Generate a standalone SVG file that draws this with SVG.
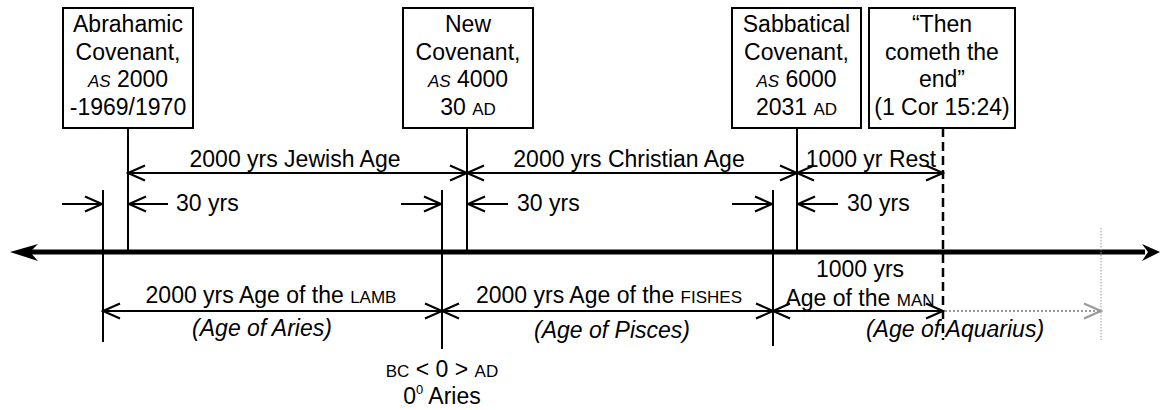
<svg xmlns="http://www.w3.org/2000/svg" width="1170" height="410" viewBox="0 0 1170 410">
<style>
text{font-family:"Liberation Sans",Arial,sans-serif;font-size:23px;fill:#000}
.c{text-anchor:middle}
.sc{font-size:17px}
.it{font-style:italic}
.box{fill:#fff;stroke:#000;stroke-width:2}
.ln{stroke:#000;stroke-width:2;fill:none}
.ar{stroke:#000;stroke-width:2;fill:none;marker-end:url(#oa)}
.dar{stroke:#000;stroke-width:2;fill:none;marker-start:url(#oa);marker-end:url(#oa)}
</style>
<defs>
<marker id="oa" viewBox="-20 -10 22 20" refX="0" refY="0" markerWidth="22" markerHeight="20" markerUnits="userSpaceOnUse" orient="auto-start-reverse">
<path d="M-17,-7.5 L0,0 L-17,7.5" fill="none" stroke="#000" stroke-width="2.2"/>
</marker>
<marker id="ga" viewBox="-20 -10 22 20" refX="0" refY="0" markerWidth="22" markerHeight="20" markerUnits="userSpaceOnUse" orient="auto">
<path d="M-17,-7.5 L0,0 L-17,7.5" fill="none" stroke="#999" stroke-width="2.2"/>
</marker>
</defs>

<g id="connectors">
<!-- main axis -->
<line x1="28" y1="252" x2="1145" y2="252" stroke="#000" stroke-width="5"/>
<polygon points="10,252 38,244 30,252 38,261" fill="#000"/>
<polygon points="1160,252 1142,244 1148,252 1142,261" fill="#000"/>
<!-- verticals -->
<line class="ln" x1="103" y1="190" x2="103" y2="342"/>
<line class="ln" x1="128" y1="128" x2="128" y2="250"/>
<line class="ln" x1="442" y1="190" x2="442" y2="349"/>
<line class="ln" x1="467" y1="128" x2="467" y2="250"/>
<line class="ln" x1="773" y1="190" x2="773" y2="346"/>
<line class="ln" x1="797" y1="128" x2="797" y2="250"/>
<line x1="943" y1="128" x2="943" y2="340" stroke="#000" stroke-width="2.5" stroke-dasharray="9,5"/>
<line x1="1101" y1="228" x2="1101" y2="340" stroke="#999" stroke-width="1" stroke-dasharray="1.5,1.5"/>
<!-- top span arrows -->
<line class="dar" x1="128" y1="173" x2="467" y2="173"/>
<line class="dar" x1="467" y1="173" x2="797" y2="173"/>
<line class="dar" x1="797" y1="173" x2="943" y2="173"/>
<!-- 30 yrs arrows -->
<line class="ar" x1="62" y1="204" x2="102" y2="204"/>
<line class="ar" x1="168" y1="204" x2="129" y2="204"/>
<line class="ar" x1="401" y1="204" x2="441" y2="204"/>
<line class="ar" x1="508" y1="204" x2="468" y2="204"/>
<line class="ar" x1="732" y1="204" x2="772" y2="204"/>
<line class="ar" x1="838" y1="204" x2="798" y2="204"/>
<!-- lower span arrows -->
<line class="dar" x1="103" y1="311" x2="442" y2="311"/>
<line class="dar" x1="442" y1="311" x2="773" y2="311"/>
<line class="dar" x1="773" y1="311" x2="943" y2="311"/>
<line x1="945" y1="311" x2="1101" y2="311" stroke="#999" stroke-width="2" stroke-dasharray="2,2" marker-end="url(#ga)"/>
</g>

<g id="abrahamic">
<rect class="box" x="63" y="8" width="130" height="120"/>
<text class="c" x="128" y="32">Abrahamic</text>
<text class="c" x="128" y="60">Covenant,</text>
<text class="c" x="128" y="87"><tspan class="sc it">AS</tspan> 2000</text>
<text class="c" x="128" y="115">-1969/1970</text>
</g>

<g id="new-covenant">
<rect class="box" x="403" y="8" width="130" height="120"/>
<text class="c" x="468" y="32">New</text>
<text class="c" x="468" y="60">Covenant,</text>
<text class="c" x="468" y="87"><tspan class="sc it">AS</tspan> 4000</text>
<text class="c" x="468" y="115">30 <tspan class="sc">AD</tspan></text>
</g>

<g id="sabbatical">
<rect class="box" x="732" y="8" width="129" height="120"/>
<text class="c" x="796.5" y="32">Sabbatical</text>
<text class="c" x="796.5" y="60">Covenant,</text>
<text class="c" x="796.5" y="87"><tspan class="sc it">AS</tspan> 6000</text>
<text class="c" x="796.5" y="115">2031 <tspan class="sc">AD</tspan></text>
</g>

<g id="the-end">
<rect class="box" x="869" y="8" width="146" height="120"/>
<text class="c" x="942" y="32">“Then</text>
<text class="c" x="942" y="60">cometh the</text>
<text class="c" x="942" y="87">end”</text>
<text class="c" x="942" y="115">(1 Cor 15:24)</text>
</g>

<g id="labels">
<text class="c" x="295" y="167">2000 yrs Jewish Age</text>
<text class="c" x="629" y="167">2000 yrs Christian Age</text>
<text class="c" x="871" y="167">1000 yr Rest</text>
<text x="176" y="211">30 yrs</text>
<text x="517" y="211">30 yrs</text>
<text x="847" y="211">30 yrs</text>
<text class="c" x="271" y="303">2000 yrs Age of the <tspan class="sc">LAMB</tspan></text>
<text class="c it" x="262" y="336">(Age of Aries)</text>
<text class="c" x="609" y="303">2000 yrs Age of the <tspan class="sc">FISHES</tspan></text>
<text class="c it" x="612" y="338">(Age of Pisces)</text>
<text class="c" x="860" y="277">1000 yrs</text>
<text class="c" x="860" y="306">Age of the <tspan class="sc">MAN</tspan></text>
<text class="c it" x="955" y="337">(Age of Aquarius)</text>
<text class="c" x="442" y="377"><tspan class="sc">BC</tspan> &lt; 0 &gt; <tspan class="sc">AD</tspan></text>
<text class="c" x="442" y="404">0<tspan font-size="13" dy="-10">0</tspan><tspan dy="10"> Aries</tspan></text>
</g>
</svg>
